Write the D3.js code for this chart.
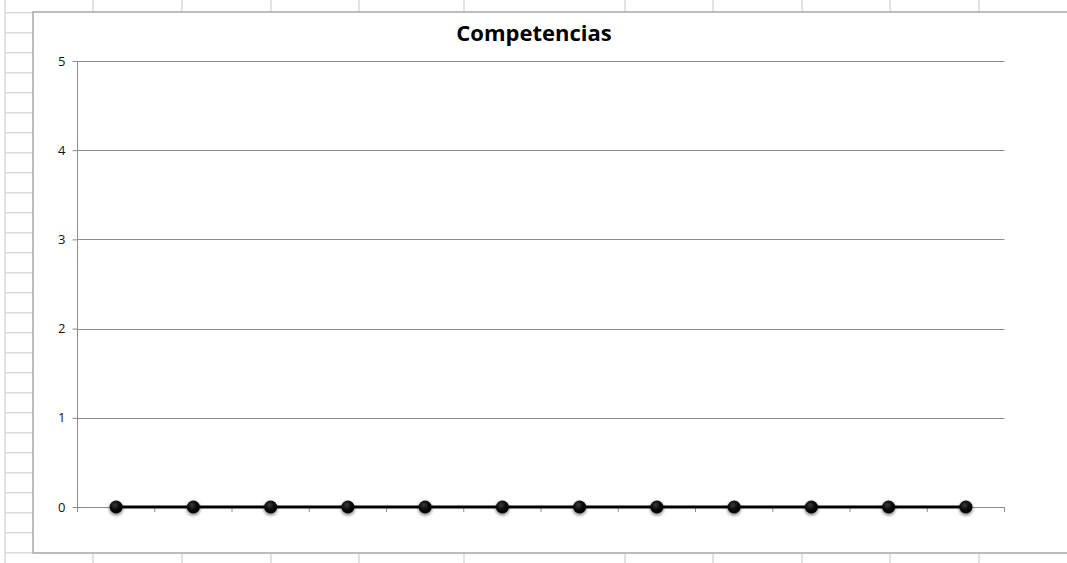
<!DOCTYPE html>
<html>
<head>
<meta charset="utf-8">
<script src="https://cdn.jsdelivr.net/npm/d3@7"></script>
<style>
  html, body { margin: 0; padding: 0; background: #fff; }
  svg { display: block; }
</style>
</head>
<body>
<svg id="chart" width="1067" height="563"></svg>
<script>
// data
var categories = ["1", "2", "3", "4", "5", "6", "7", "8", "9", "10", "11", "12"];
var values = [0, 0, 0, 0, 0, 0, 0, 0, 0, 0, 0, 0];
var yTicks = [0, 1, 2, 3, 4, 5];
var title = "Competencias";

// spreadsheet grid behind the chart
var sheetCols = [5, 93, 182, 271, 359, 464, 625, 713, 802, 890, 979];

var width = 1067, height = 563;
var svg = d3.select("#chart");

var sheet = svg.append("g").attr("class", "sheet");
sheet.selectAll("line.col")
  .data(sheetCols)
  .enter().append("line")
  .attr("x1", d => d).attr("x2", d => d)
  .attr("y1", 0).attr("y2", height)
  .style("stroke", "#dadada").style("stroke-width", 1.5);
sheet.selectAll("line.row")
  .data(d3.range(0, 28))
  .enter().append("line")
  .attr("x1", 5).attr("x2", 33)
  .attr("y1", d => 12.7 + d * 20).attr("y2", d => 12.7 + d * 20)
  .style("stroke", "#dadada").style("stroke-width", 1.5);

// chart box (runs off the right edge)
svg.append("rect")
  .attr("x", 33).attr("y", 12)
  .attr("width", width).attr("height", 541)
  .style("fill", "#fff");
svg.append("path")
  .attr("d", "M" + (width + 2) + ",12H33V553H" + (width + 2))
  .style("fill", "none")
  .style("stroke", "#a8a8a8").style("stroke-width", 1.5);

var margin = {left: 77.5, right: 1004.5, top: 61, bottom: 507};

var x = d3.scaleBand().domain(categories).range([margin.left, margin.right]);
var y = d3.scaleLinear().domain([0, 5]).range([margin.bottom, margin.top]);

// gridlines
svg.append("g")
  .selectAll("line")
  .data(yTicks.filter(d => d > 0))
  .enter().append("line")
  .attr("x1", margin.left).attr("x2", margin.right)
  .attr("y1", d => Math.round(y(d)) + 0.5).attr("y2", d => Math.round(y(d)) + 0.5)
  .style("stroke", "#8c8c8c").style("stroke-width", 1);

// y axis
var yAxis = svg.append("g")
  .attr("transform", "translate(" + margin.left + ",0)")
  .call(d3.axisLeft(y).tickValues(yTicks).tickSize(5).tickPadding(7).tickFormat(d3.format("d")));
yAxis.select(".domain").attr("d", "M0," + margin.top + "V" + (margin.bottom + 5));
yAxis.selectAll("path, line").style("stroke", "#8c8c8c");
yAxis.attr("font-size", null).attr("font-family", null);
yAxis.selectAll("text")
  .style("font-family", "'Open Sans', sans-serif").style("font-size", "13px").style("fill", "#111");

// x axis: ticks between categories
var bounds = categories.map(c => x(c)).concat([margin.right]);
var xAxis = svg.append("g");
xAxis.append("line")
  .attr("x1", margin.left).attr("x2", margin.right)
  .attr("y1", y(0) + 0.5).attr("y2", y(0) + 0.5)
  .style("stroke", "#8c8c8c");
xAxis.selectAll("line.tick")
  .data(bounds)
  .enter().append("line")
  .attr("class", "tick")
  .attr("x1", d => d).attr("x2", d => d)
  .attr("y1", y(0)).attr("y2", y(0) + 5)
  .style("stroke", "#8c8c8c");

// marker style
var defs = svg.append("defs");
var grad = defs.append("radialGradient").attr("id", "dot").attr("cx", "40%").attr("cy", "35%").attr("r", "65%");
grad.append("stop").attr("offset", "0%").attr("stop-color", "#3a3a3a");
grad.append("stop").attr("offset", "55%").attr("stop-color", "#0a0a0a");
grad.append("stop").attr("offset", "100%").attr("stop-color", "#000");
var blur = defs.append("filter").attr("id", "shadow").attr("x", "-50%").attr("y", "-50%").attr("width", "200%").attr("height", "200%");
blur.append("feGaussianBlur").attr("stdDeviation", 1.5);

// series line
var line = d3.line()
  .x((d, i) => x(categories[i]) + x.bandwidth() / 2)
  .y(d => y(d));

svg.append("path")
  .datum(values)
  .attr("d", line)
  .style("fill", "none")
  .style("stroke", "#000")
  .style("stroke-width", 3);

var dots = svg.append("g");
dots.selectAll("circle.sh")
  .data(values)
  .enter().append("circle")
  .attr("cx", (d, i) => x(categories[i]) + x.bandwidth() / 2)
  .attr("cy", d => y(d) + 1.5)
  .attr("r", 7)
  .attr("filter", "url(#shadow)")
  .style("fill", "#000").style("opacity", 0.45);
dots.selectAll("circle.pt")
  .data(values)
  .enter().append("circle")
  .attr("cx", (d, i) => x(categories[i]) + x.bandwidth() / 2)
  .attr("cy", d => y(d))
  .attr("r", 6.5)
  .style("fill", "url(#dot)");

// title
svg.append("text")
  .attr("x", 534).attr("y", 41)
  .attr("text-anchor", "middle")
  .style("font-family", "'Open Sans', sans-serif")
  .style("font-weight", "bold")
  .style("font-size", "22px")
  .style("fill", "#000")
  .text(title);
</script>
</body>
</html>
